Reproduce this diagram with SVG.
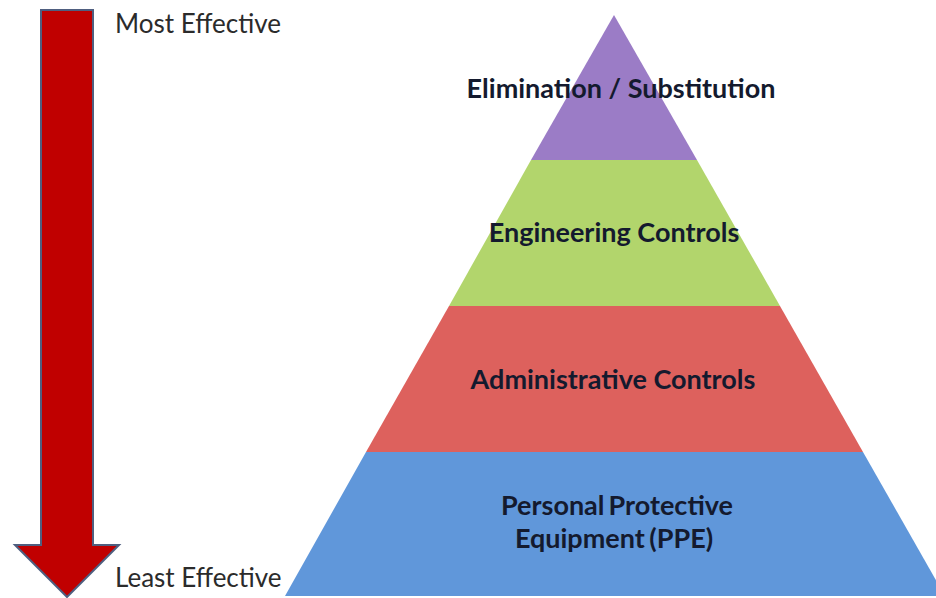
<svg xmlns="http://www.w3.org/2000/svg" width="936" height="598" viewBox="0 0 936 598">
  <style>
    .side { font-family: Lato, "Open Sans", "Liberation Sans", sans-serif; font-size: 26px; fill: #2b2b2b; }
    .tier { font-family: Lato, "Open Sans", "Liberation Sans", sans-serif; font-size: 27px; font-weight: bold; fill: #141a2e; text-anchor: middle; }
  </style>
  <rect width="936" height="598" fill="#ffffff"/>

  <!-- effectiveness arrow -->
  <g id="arrow">
    <path d="M41,10 H93 V545 H119 L67,597 L15,545 H41 Z" fill="#c00000" stroke="#4f5f80" stroke-width="2" stroke-linejoin="miter"/>
  </g>
  <g id="label-most">
    <text class="side" x="115" y="33">Most Effective</text>
  </g>
  <g id="label-least">
    <text class="side" x="115" y="587">Least Effective</text>
  </g>

  <!-- hierarchy pyramid -->
  <g id="tier-elimination">
    <polygon points="614,15 697,160 531,160" fill="#9b7cc6"/>
    <text class="tier" x="621" y="98">Elimination / Substitution</text>
  </g>
  <g id="tier-engineering">
    <polygon points="531,160 697,160 780,306 449,306" fill="#b2d56c"/>
    <text class="tier" x="614" y="242">Engineering Controls</text>
  </g>
  <g id="tier-administrative">
    <polygon points="449,306 780,306 863,452 366,452" fill="#dd615d"/>
    <text class="tier" x="613" y="389">Administrative Controls</text>
  </g>
  <g id="tier-ppe">
    <polygon points="366,452 863,452 945,596 285,596" fill="#6097da"/>
    <text class="tier" x="617" y="515" word-spacing="-2.5">Personal Protective</text>
    <text class="tier" x="614" y="548" word-spacing="-2">Equipment (PPE)</text>
  </g>
</svg>
